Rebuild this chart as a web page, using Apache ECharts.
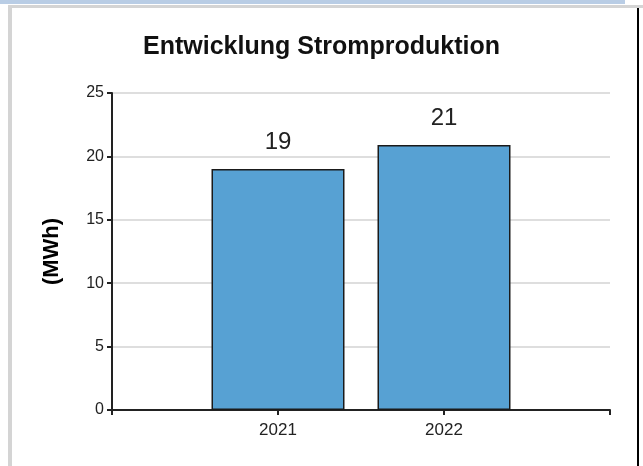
<!DOCTYPE html>
<html>
<head>
<meta charset="utf-8">
<title>Entwicklung Stromproduktion</title>
<script src="https://cdn.jsdelivr.net/npm/echarts@6.0.0/dist/echarts.min.js"></script>
<style>
  html, body { margin: 0; padding: 0; background: #fff; }
  #wrap { position: relative; width: 643px; height: 466px; overflow: hidden; }
  #chart { position: absolute; left: 0; top: 0; width: 643px; height: 466px; }
  .bar-top { position: absolute; left: 0; top: 0; width: 625px; height: 4px; background: #b9cde5; }
  .bar-gray { position: absolute; left: 8px; top: 5px; width: 635px; height: 3px; background: #d4d4d4; }
  .bar-left { position: absolute; left: 8px; top: 5px; width: 4px; height: 461px; background: #d4d4d4; }
  .bar-right { position: absolute; left: 637px; top: 8px; width: 2px; height: 458px; background: #000; }
</style>
</head>
<body>
<div id="wrap">
  <div id="chart"></div>
  <div class="bar-top"></div>
  <div class="bar-gray"></div>
  <div class="bar-left"></div>
  <div class="bar-right"></div>
</div>
<script>
// Jahre und Werte (MWh)
var years = [2021, 2022];
var production = [19.0, 20.9];
var yTicks = [0, 5, 10, 15, 20, 25];

var font = 'Liberation Sans, Arial, sans-serif';
var chart = echarts.init(document.getElementById('chart'));

var option = {
  animation: false,
  title: {
    text: 'Entwicklung Stromproduktion',
    left: 'center',
    top: 30,
    textStyle: { fontFamily: font, fontSize: 25, fontWeight: 'bold', color: '#111' }
  },
  grid: { left: 112, right: 33, top: 93, bottom: 56 },
  xAxis: {
    type: 'value',
    min: 2020,
    max: 2023,
    interval: 1,
    splitLine: { show: false },
    axisLine: { show: true, lineStyle: { color: '#222', width: 2 } },
    axisTick: { show: true, length: 5, lineStyle: { color: '#222', width: 2 } },
    axisLabel: {
      fontFamily: font, fontSize: 17, color: '#222', margin: 12,
      formatter: function (v) { return years.indexOf(v) >= 0 ? String(v) : ''; }
    }
  },
  yAxis: {
    type: 'value',
    min: yTicks[0],
    max: yTicks[yTicks.length - 1],
    interval: 5,
    name: '(MWh)',
    nameLocation: 'middle',
    nameGap: 49,
    nameRotate: 90,
    nameTextStyle: { fontFamily: font, fontSize: 22, fontWeight: 'bold', color: '#000' },
    axisLine: { show: true, lineStyle: { color: '#222', width: 2 } },
    axisTick: { show: true, length: 5, lineStyle: { color: '#222', width: 2 } },
    axisLabel: { fontFamily: font, fontSize: 16, color: '#222', margin: 8 },
    splitLine: { show: true, lineStyle: { color: '#dedede', width: 2 } }
  },
  series: [{
    type: 'bar',
    barWidth: 133,
    data: years.map(function (y, i) { return [y, production[i]]; }),
    itemStyle: { color: '#57a1d3', borderColor: '#1a1a1a', borderWidth: 1.5 },
    label: {
      show: true,
      position: 'top',
      distance: 15,
      fontFamily: font,
      fontSize: 24,
      color: '#222',
      formatter: function (p) { return Math.round(p.value[1]); }
    }
  }]
};

chart.setOption(option);
</script>
</body>
</html>
